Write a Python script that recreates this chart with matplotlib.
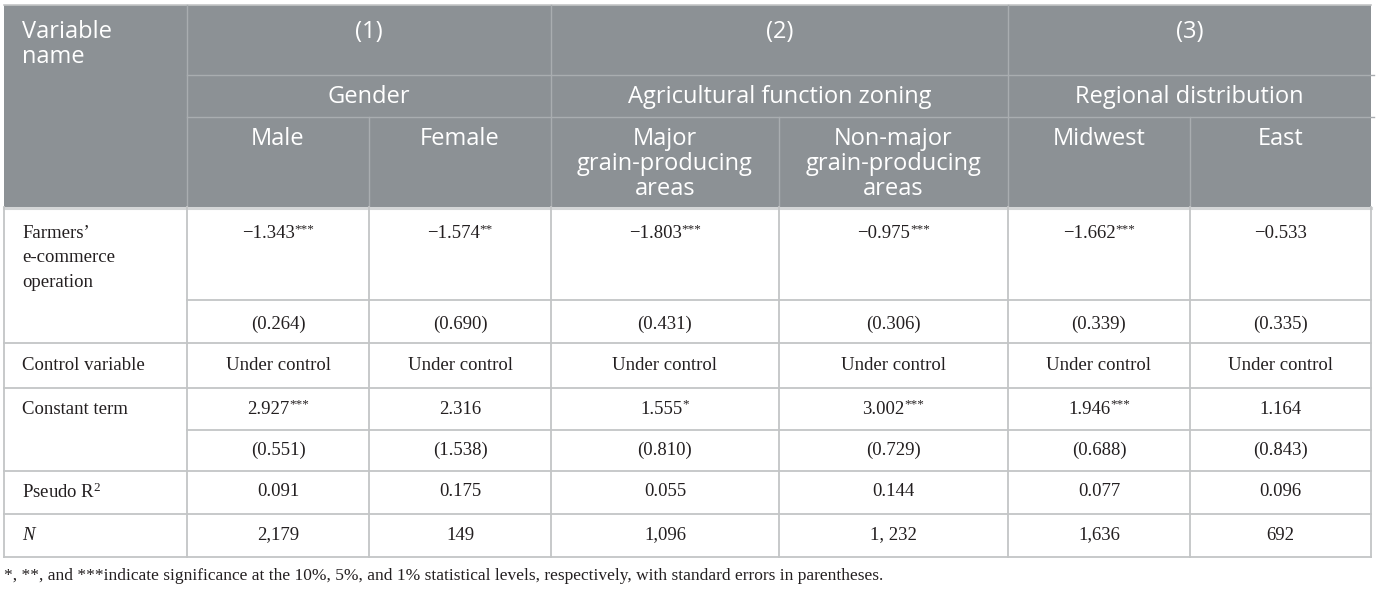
import matplotlib.pyplot as plt

plt.rcParams['mathtext.fontset'] = 'custom'
plt.rcParams['mathtext.rm'] = 'Liberation Serif'
plt.rcParams['mathtext.it'] = 'Liberation Serif:italic'

# --- 데이터 ---
groups = ["(1)", "(2)", "(3)"]
group_titles = ["Gender", "Agricultural function zoning", "Regional distribution"]
sub_columns = ["Male", "Female", "Major\ngrain-producing\nareas",
               "Non-major\ngrain-producing\nareas", "Midwest", "East"]
coef_values = ["−1.343", "−1.574", "−1.803", "−0.975", "−1.662", "−0.533"]
coef_stars = ["***", "**", "***", "***", "***", ""]
coef_se = ["(0.264)", "(0.690)", "(0.431)", "(0.306)", "(0.339)", "(0.335)"]
control = ["Under control"] * 6
const_values = ["2.927", "2.316", "1.555", "3.002", "1.946", "1.164"]
const_stars = ["***", "", "*", "***", "***", ""]
const_se = ["(0.551)", "(1.538)", "(0.810)", "(0.729)", "(0.688)", "(0.843)"]
pseudo_r2 = ["0.091", "0.175", "0.055", "0.144", "0.077", "0.096"]
n_obs = ["2,179", "149", "1,096", "1, 232", "1,636", "692"]
footnote = ("*, **, and ***indicate significance at the 10%, 5%, and 1% "
            "statistical levels, respectively, with standard errors in parentheses.")

# --- 레이아웃 (픽셀 좌표) ---
W, H = 1377, 590
col_x = [4, 187, 369, 551, 779, 1008, 1190, 1371]
group_span = [(1, 3), (3, 5), (5, 7)]
hy = [5, 75, 117, 207]
row_y = [207, 300, 343, 388, 430, 471, 514, 557]

header_bg = '#8c9195'
header_line = '#a9adb0'
grid = '#c3c5c6'
body_color = '#231f20'
sans = 'Open Sans'
serif = 'Liberation Serif'
hfs = 17     # 헤더 글자 크기
bfs = 13.5   # 본문 글자 크기

fig = plt.figure(figsize=(W / 100, H / 100), dpi=100)
ax = fig.add_axes([0, 0, 1, 1])
ax.set_xlim(0, W)
ax.set_ylim(H, 0)
ax.axis('off')
renderer = fig.canvas.get_renderer()

# 헤더 배경
ax.add_patch(plt.Rectangle((col_x[0], hy[0]), col_x[-1] - col_x[0], hy[3] - hy[0],
                           facecolor=header_bg, edgecolor='none'))
ax.plot([col_x[0], col_x[-1]], [hy[0], hy[0]], color=grid, lw=1.2)

# 헤더 선
ax.plot([col_x[1], col_x[-1] + 3], [hy[1], hy[1]], color=header_line, lw=1)
ax.plot([col_x[1], col_x[-1] + 3], [hy[2], hy[2]], color=header_line, lw=1)
for i in [1, 3, 5]:
    ax.plot([col_x[i], col_x[i]], [hy[0], hy[3]], color=header_line, lw=1)
for i in [2, 4, 6]:
    ax.plot([col_x[i], col_x[i]], [hy[2], hy[3]], color=header_line, lw=1)

# 헤더 텍스트
ax.text(22, 20, "Variable\nname", color='white', fontsize=hfs, family=sans,
        ha='left', va='top', linespacing=1.05)
for g, title, (a, b) in zip(groups, group_titles, group_span):
    cx = (col_x[a] + col_x[b]) / 2
    ax.text(cx, 32, g, color='white', fontsize=hfs, family=sans, ha='center', va='center')
    ax.text(cx, 97, title, color='white', fontsize=hfs, family=sans, ha='center', va='center')
for i, s in enumerate(sub_columns):
    cx = (col_x[i + 1] + col_x[i + 2]) / 2
    ax.text(cx, 127, s, color='white', fontsize=hfs, family=sans, ha='center', va='top',
            linespacing=1.05)

# 본문 선
ax.plot([col_x[0], col_x[-1]], [row_y[0] + 1, row_y[0] + 1], color='#d4d6d7', lw=2.2)
for k, y in enumerate(row_y[1:], start=1):
    x0 = col_x[1] if k in (1, 4) else col_x[0]
    ax.plot([x0, col_x[-1]], [y, y], color=grid, lw=1.3)
for x in col_x:
    ax.plot([x, x], [row_y[0], row_y[-1]], color=grid, lw=1.3)


def text_width(s, size):
    t = ax.text(0, 0, s, fontsize=size, family=serif)
    w = t.get_window_extent(renderer).width
    t.remove()
    return w


def cell(i, y, txt, stars=""):
    cx = (col_x[i + 1] + col_x[i + 2]) / 2
    if not stars:
        ax.text(cx, y, txt, color=body_color, fontsize=bfs, family=serif,
                ha='center', va='center')
        return
    # 숫자와 별표를 함께 가운데 정렬
    sfs = bfs * 0.7
    sw = text_width(stars, sfs)
    t = ax.text(cx - sw / 2, y, txt, color=body_color, fontsize=bfs, family=serif,
                ha='center', va='center')
    ax.annotate(stars, xy=(1, 1), xycoords=t, xytext=(0, 1.5), textcoords='offset points',
                color=body_color, fontsize=sfs, family=serif, ha='left', va='top')


# 왼쪽 열
lx = 22
ax.text(lx, 225, "Farmers’\ne-commerce\noperation", color=body_color, fontsize=bfs,
        family=serif, ha='left', va='top', linespacing=1.56)
ax.text(lx, 366, "Control variable", color=body_color, fontsize=bfs, family=serif,
        ha='left', va='center')
ax.text(lx, 409, "Constant term", color=body_color, fontsize=bfs, family=serif,
        ha='left', va='center')
ax.text(lx, 492, r"Pseudo R$^{2}$", color=body_color, fontsize=bfs, family=serif,
        ha='left', va='center')
ax.text(lx, 535, "N", color=body_color, fontsize=bfs, family=serif, style='italic',
        ha='left', va='center')

for i in range(6):
    cell(i, 234, coef_values[i], coef_stars[i])
    cell(i, 324, coef_se[i])
    cell(i, 366, control[i])
    cell(i, 409, const_values[i], const_stars[i])
    cell(i, 450, const_se[i])
    cell(i, 492, pseudo_r2[i])
    cell(i, 535, n_obs[i])

ax.text(4, 576, footnote, color=body_color, fontsize=12.5, family=serif,
        ha='left', va='center')

plt.savefig("out.png", dpi=100)
